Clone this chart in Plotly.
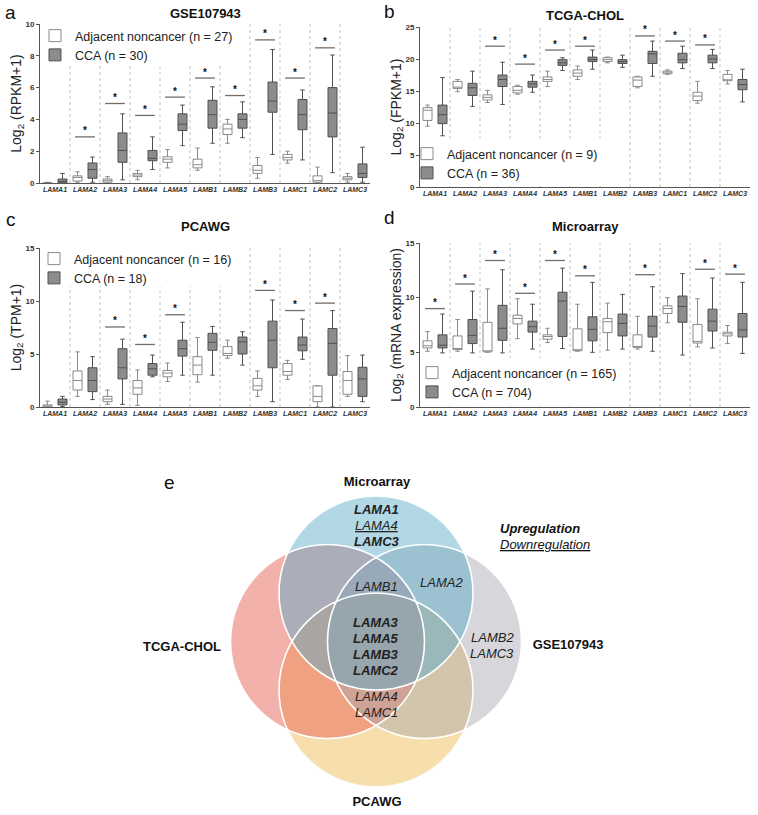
import plotly.graph_objects as go

# ---------------- data ----------------
genes = ["LAMA1", "LAMA2", "LAMA3", "LAMA4", "LAMA5", "LAMB1", "LAMB2", "LAMB3", "LAMC1", "LAMC2", "LAMC3"]

# panel a : GSE107943, Log2(RPKM+1)
gse_adj_lo = [0.0, 0.05, 0.0, 0.2, 0.95, 0.8, 2.5, 0.3, 1.25, 0.0, 0.05]
gse_adj_q1 = [0.0, 0.12, 0.05, 0.4, 1.3, 0.95, 3.05, 0.6, 1.45, 0.05, 0.2]
gse_adj_med = [0.0, 0.35, 0.15, 0.5, 1.5, 1.15, 3.4, 0.8, 1.6, 0.15, 0.3]
gse_adj_q3 = [0.02, 0.45, 0.25, 0.6, 1.65, 1.5, 3.7, 1.1, 1.8, 0.45, 0.4]
gse_adj_hi = [0.05, 0.7, 0.4, 0.8, 2.1, 2.2, 4.0, 1.6, 2.0, 1.0, 0.6]
gse_cca_lo = [0.0, 0.05, 0.2, 0.85, 2.35, 2.5, 2.85, 1.8, 1.45, 0.65, 0.05]
gse_cca_q1 = [0.0, 0.3, 1.3, 1.4, 3.3, 3.45, 3.45, 4.45, 3.35, 2.9, 0.35]
gse_cca_med = [0.1, 0.85, 2.05, 1.55, 3.7, 4.3, 4.0, 5.15, 4.3, 4.4, 0.6]
gse_cca_q3 = [0.25, 1.26, 3.15, 2.05, 4.35, 5.2, 4.35, 6.35, 5.25, 6.0, 1.2]
gse_cca_hi = [0.6, 1.63, 4.35, 2.9, 4.9, 6.05, 5.1, 8.4, 5.85, 8.05, 2.25]
gse_sig = [None, 2.9, 5.0, 4.25, 5.4, 6.6, 5.5, 9.0, 6.6, 8.5, None]
gse_n = (27, 30)

# panel b : TCGA-CHOL, Log2(FPKM+1)
tcga_adj_lo = [9.5, 14.9, 13.2, 14.5, 15.7, 16.8, 19.4, 15.5, 17.6, 13.1, 16.1]
tcga_adj_q1 = [10.4, 15.4, 13.6, 14.7, 16.5, 17.3, 19.6, 15.7, 17.7, 13.5, 16.6]
tcga_adj_med = [12.0, 15.6, 14.0, 15.1, 16.8, 17.8, 19.9, 16.7, 18.0, 14.2, 16.7]
tcga_adj_q3 = [12.4, 16.5, 14.4, 15.7, 17.2, 18.3, 20.2, 17.2, 18.1, 14.8, 17.6]
tcga_adj_hi = [12.8, 16.8, 15.1, 15.9, 18.1, 18.9, 20.3, 17.3, 18.3, 16.5, 18.2]
tcga_cca_lo = [8.0, 12.6, 12.9, 14.8, 18.2, 18.4, 18.7, 17.3, 18.5, 18.5, 13.3]
tcga_cca_q1 = [9.9, 14.3, 15.7, 15.6, 19.0, 19.6, 19.3, 19.3, 19.4, 19.4, 15.2]
tcga_cca_med = [11.3, 15.5, 16.8, 16.1, 19.4, 19.9, 19.6, 20.8, 19.9, 20.0, 16.0]
tcga_cca_q3 = [12.8, 16.2, 17.5, 16.5, 19.9, 20.3, 19.9, 21.2, 20.9, 20.6, 16.8]
tcga_cca_hi = [17.1, 18.1, 19.5, 17.5, 20.2, 21.4, 20.6, 22.8, 22.0, 21.5, 18.4]
tcga_sig = [None, None, 22.0, 19.2, 21.4, 22.0, None, 23.6, 22.8, 22.2, None]
tcga_n = (9, 36)

# panel c : PCAWG, Log2(TPM+1)
pcawg_adj_lo = [0.0, 1.0, 0.25, 0.15, 2.4, 2.35, 4.6, 1.0, 2.6, 0.0, 1.0]
pcawg_adj_q1 = [0.0, 1.6, 0.5, 1.2, 2.85, 3.05, 4.85, 1.6, 3.0, 0.5, 1.2]
pcawg_adj_med = [0.1, 2.5, 0.75, 1.8, 3.2, 3.95, 5.05, 2.0, 3.35, 1.0, 2.5]
pcawg_adj_q3 = [0.2, 3.4, 1.0, 2.5, 3.45, 4.75, 5.7, 2.7, 4.1, 2.0, 3.35]
pcawg_adj_hi = [0.55, 5.2, 1.6, 3.5, 4.15, 6.55, 6.3, 3.4, 4.4, 2.0, 4.85]
pcawg_cca_lo = [0.05, 0.7, 0.25, 2.85, 3.0, 3.0, 3.95, 0.5, 4.5, 0.0, 0.5]
pcawg_cca_q1 = [0.2, 1.45, 2.65, 3.0, 4.8, 5.35, 5.0, 3.7, 5.3, 3.0, 1.0]
pcawg_cca_med = [0.45, 2.5, 3.7, 3.6, 5.5, 6.1, 6.15, 6.3, 5.85, 6.0, 2.65]
pcawg_cca_q3 = [0.75, 3.7, 5.5, 4.1, 6.3, 6.95, 6.6, 8.1, 6.6, 7.4, 3.75]
pcawg_cca_hi = [1.0, 4.75, 6.4, 4.9, 8.0, 7.6, 7.1, 10.1, 8.3, 9.1, 4.9]
pcawg_sig = [None, None, 7.55, 5.9, 8.7, None, None, 11.0, 9.1, 9.8, None]
pcawg_n = (16, 18)

# panel d : Microarray, Log2(mRNA expression)
micro_adj_lo = [5.1, 5.1, 5.0, 6.25, 5.9, 5.1, 5.2, 5.3, 7.7, 5.5, 5.8]
micro_adj_q1 = [5.4, 5.25, 5.05, 7.6, 6.2, 5.15, 6.8, 5.45, 8.55, 5.85, 6.5]
micro_adj_med = [5.6, 5.35, 5.1, 8.1, 6.45, 5.2, 7.8, 5.5, 9.0, 6.0, 6.7]
micro_adj_q3 = [6.05, 6.5, 7.75, 8.4, 6.6, 7.15, 8.1, 6.6, 9.25, 7.55, 6.85]
micro_adj_hi = [6.9, 8.0, 10.8, 9.9, 7.2, 9.4, 9.5, 8.3, 10.0, 9.9, 7.45]
micro_cca_lo = [4.95, 4.95, 4.95, 5.3, 5.35, 5.0, 5.3, 5.1, 4.75, 5.4, 4.9]
micro_cca_q1 = [5.4, 5.8, 6.1, 6.85, 6.45, 6.05, 6.5, 6.4, 7.75, 6.95, 6.4]
micro_cca_med = [5.65, 6.55, 7.2, 7.35, 9.7, 7.1, 7.65, 7.4, 9.2, 7.85, 7.05]
micro_cca_q3 = [6.6, 8.0, 9.3, 7.85, 10.5, 8.25, 8.5, 8.3, 10.15, 8.95, 8.55]
micro_cca_hi = [8.5, 10.6, 12.55, 9.4, 12.7, 11.4, 10.3, 11.0, 12.2, 11.8, 11.4]
micro_sig = [9.0, 11.25, 13.4, 10.4, 13.4, 12.0, None, 12.1, None, 12.6, 12.15]
micro_n = (165, 704)

# panel e : Venn diagram
venn_sets = ["Microarray", "GSE107943", "PCAWG", "TCGA-CHOL"]
venn_micro_only = ["LAMA1", "LAMA4", "LAMC3"]
venn_micro_only_dir = ["up", "down", "up"]
venn_micro_gse_tcga = ["LAMB1"]
venn_micro_gse = ["LAMA2"]
venn_all_four = ["LAMA3", "LAMA5", "LAMB3", "LAMC2"]
venn_gse_only = ["LAMB2", "LAMC3"]
venn_gse_pcawg_tcga = ["LAMA4", "LAMC1"]

# ---------------- figure ----------------
FONT = "Liberation Sans, Arial, sans-serif"
W, H = 758, 815
fig = go.Figure()

def px_x(p):
    return p / W

def px_y(p):
    return 1 - p / H

panels = [
    dict(key="", title="GSE107943", letter="a", ytitle="Log<sub>2</sub> (RPKM+1)",
         adj=(gse_adj_lo, gse_adj_q1, gse_adj_med, gse_adj_q3, gse_adj_hi),
         cca=(gse_cca_lo, gse_cca_q1, gse_cca_med, gse_cca_q3, gse_cca_hi),
         sig=gse_sig, n=gse_n, yr=[0, 10], dt=2,
         xd=[40, 370], yd=[24, 183], leg=(35, 21), cover=(42, 23, 240, 65),
         tpos=(205, 13), lpos=(3, 12)),
    dict(key="2", title="TCGA-CHOL", letter="b", ytitle="Log<sub>2</sub> (FPKM+1)",
         adj=(tcga_adj_lo, tcga_adj_q1, tcga_adj_med, tcga_adj_q3, tcga_adj_hi),
         cca=(tcga_cca_lo, tcga_cca_q1, tcga_cca_med, tcga_cca_q3, tcga_cca_hi),
         sig=tcga_sig, n=tcga_n, yr=[0, 25], dt=5,
         xd=[420, 750], yd=[27, 187], leg=(407, 139), cover=(422, 140, 605, 186),
         tpos=(585, 15), lpos=(382, 11)),
    dict(key="3", title="PCAWG", letter="c", ytitle="Log<sub>2</sub> (TPM+1)",
         adj=(pcawg_adj_lo, pcawg_adj_q1, pcawg_adj_med, pcawg_adj_q3, pcawg_adj_hi),
         cca=(pcawg_cca_lo, pcawg_cca_q1, pcawg_cca_med, pcawg_cca_q3, pcawg_cca_hi),
         sig=pcawg_sig, n=pcawg_n, yr=[0, 15], dt=5,
         xd=[40, 370], yd=[248, 407], leg=(34, 244), cover=(42, 246, 240, 286),
         tpos=(205, 227), lpos=(4, 219)),
    dict(key="4", title="Microarray", letter="d", ytitle="Log<sub>2</sub> (mRNA expression)",
         adj=(micro_adj_lo, micro_adj_q1, micro_adj_med, micro_adj_q3, micro_adj_hi),
         cca=(micro_cca_lo, micro_cca_q1, micro_cca_med, micro_cca_q3, micro_cca_hi),
         sig=micro_sig, n=micro_n, yr=[0, 15], dt=5,
         xd=[420, 750], yd=[243, 407], leg=(412, 358), cover=(422, 358, 628, 406),
         tpos=(585, 227), lpos=(382, 217)),
]

xpos = list(range(len(genes)))
shapes = []
annotations = []
layout_axes = {}

for p in panels:
    k = p["key"]
    xa, ya = "x" + k, "y" + k
    legname = "legend" + k
    for grp, og, label, fill, lc in [
        (p["adj"], "adj", "Adjacent noncancer (n = %d)" % p["n"][0], "white", "#8a8a8a"),
        (p["cca"], "cca", "CCA (n = %d)" % p["n"][1], "#8c8c8c", "#505050"),
    ]:
        lo, q1, med, q3, hi = grp
        fig.add_trace(go.Box(
            x=xpos, q1=q1, median=med, q3=q3, lowerfence=lo, upperfence=hi,
            name=label, fillcolor=fill, line=dict(color=lc, width=1),
            whiskerwidth=0.5, boxpoints=False, hoverinfo="skip",
            alignmentgroup="panel" + (k or "1"), offsetgroup=og,
            xaxis=xa, yaxis=ya, legend=legname,
        ))
    # significance bars and asterisks
    bx, by, sx, sy = [], [], [], []
    for i, h in enumerate(p["sig"]):
        if h is None:
            continue
        bx += [i - 0.33, i + 0.33, None]
        by += [h, h, None]
        sx.append(i)
        sy.append(h)
    fig.add_trace(go.Scatter(x=bx, y=by, mode="lines", line=dict(color="#6e6e6e", width=1.3),
                             showlegend=False, hoverinfo="skip", xaxis=xa, yaxis=ya))
    fig.add_trace(go.Scatter(x=sx, y=sy, mode="text", text=["*"] * len(sx),
                             textposition="top center", cliponaxis=False,
                             textfont=dict(size=10, color="#111111", family=FONT, weight="bold"),
                             showlegend=False, hoverinfo="skip", xaxis=xa, yaxis=ya))
    # dotted separators
    for i in range(len(genes) - 1):
        shapes.append(dict(type="line", xref=xa, yref=ya + " domain", x0=i + 0.5, x1=i + 0.5,
                           y0=0, y1=1, line=dict(color="#c4c4c4", width=1, dash="dot"),
                           layer="below"))
    # white patch behind the legend (hides separators there)
    c = p["cover"]
    shapes.append(dict(type="rect", xref="paper", yref="paper", x0=px_x(c[0]), x1=px_x(c[2]),
                       y0=px_y(c[3]), y1=px_y(c[1]), fillcolor="white", line=dict(width=0),
                       layer="below"))
    layout_axes["xaxis" + k] = dict(
        domain=[px_x(p["xd"][0]), px_x(p["xd"][1])], anchor=ya, range=[-0.5, len(genes) - 0.5],
        tickvals=xpos, ticktext=genes, ticks="", showgrid=False, zeroline=False,
        showline=True, linecolor="#555", linewidth=1, automargin=False,
        tickfont=dict(size=7, family=FONT, color="#333", weight="bold", style="italic"),
    )
    layout_axes["yaxis" + k] = dict(
        domain=[px_y(p["yd"][1]), px_y(p["yd"][0])], anchor=xa, range=p["yr"],
        tickvals=list(range(p["yr"][0], p["yr"][1] + 1, p["dt"])),
        ticks="outside", ticklen=3, tickcolor="#555", showgrid=False, zeroline=False,
        showline=True, linecolor="#555", linewidth=1, automargin=False,
        tickfont=dict(size=8, family=FONT, color="#333", weight="bold"),
        title=dict(text=p["ytitle"], font=dict(size=14, family=FONT, color="#222"), standoff=0),
    )
    layout_axes[legname] = dict(
        x=px_x(p["leg"][0]), y=px_y(p["leg"][1]), xanchor="left", yanchor="top",
        bgcolor="rgba(0,0,0,0)", borderwidth=0, font=dict(size=12.5, family=FONT, color="#222"),
        tracegroupgap=0, itemclick=False,
    )
    annotations.append(dict(text="<b>%s</b>" % p["title"], xref="paper", yref="paper",
                            x=px_x(p["tpos"][0]), y=px_y(p["tpos"][1]), xanchor="center",
                            yanchor="middle", showarrow=False,
                            font=dict(size=13, family=FONT, color="#111")))
    annotations.append(dict(text=p["letter"], xref="paper", yref="paper",
                            x=px_x(p["lpos"][0]), y=px_y(p["lpos"][1]), xanchor="left",
                            yanchor="middle", showarrow=False,
                            font=dict(size=19, family=FONT, color="#111")))

# ---------------- Venn (panel e) ----------------
R = 97.0  # pixels per unit (circle radius = 1)
cx_px, cy_px = 376, 641.5
layout_axes["xaxis5"] = dict(domain=[0, 1], range=[-cx_px / R, (W - cx_px) / R], visible=False,
                             anchor="y5", fixedrange=True, automargin=False)
layout_axes["yaxis5"] = dict(domain=[0, px_y(440)], range=[-(H - cy_px) / R, (cy_px - 440) / R],
                             visible=False, anchor="x5", fixedrange=True, automargin=False)

off = 0.5
venn_dirs = {"Microarray": (0, 1), "GSE107943": (1, 0), "PCAWG": (0, -1), "TCGA-CHOL": (-1, 0)}
venn_fill = {"TCGA-CHOL": "rgba(232,100,88,0.5)", "GSE107943": "rgba(165,165,172,0.44)",
             "PCAWG": "rgba(238,192,90,0.5)", "Microarray": "rgba(88,170,200,0.46)"}
draw_order = ["PCAWG", "TCGA-CHOL", "GSE107943", "Microarray"]
for s in draw_order:
    dx, dy = venn_dirs[s]
    cx, cy = dx * off, dy * off
    shapes.append(dict(type="circle", xref="x5", yref="y5", x0=cx - 1, x1=cx + 1, y0=cy - 1, y1=cy + 1,
                       fillcolor=venn_fill[s], line=dict(width=0), layer="below"))
for s in draw_order:
    dx, dy = venn_dirs[s]
    cx, cy = dx * off, dy * off
    shapes.append(dict(type="circle", xref="x5", yref="y5", x0=cx - 1, x1=cx + 1, y0=cy - 1, y1=cy + 1,
                       fillcolor="rgba(0,0,0,0)", line=dict(color="white", width=1.6), layer="below"))

# set names
name_pos = {"Microarray": (0.01, 1.634), "GSE107943": (1.98, -0.046),
            "PCAWG": (0.01, -1.665), "TCGA-CHOL": (-2.0, -0.067)}
fig.add_trace(go.Scatter(
    x=[name_pos[s][0] for s in venn_sets], y=[name_pos[s][1] for s in venn_sets],
    mode="text", text=["<b>%s</b>" % s for s in venn_sets], cliponaxis=False,
    textfont=dict(size=13, family=FONT, color="#111"), showlegend=False, hoverinfo="skip",
    xaxis="x5", yaxis="y5"))

def venn_lines(items, x, y0, styles, step=0.165):
    for j, (g, st) in enumerate(zip(items, styles)):
        if st == "up":
            t = "<b><i>%s</i></b>" % g
        elif st == "down":
            t = "<i><u>%s</u></i>" % g
        else:
            t = "<i>%s</i>" % g
        annotations.append(dict(text=t, xref="x5", yref="y5", x=x, y=y0 - j * step, showarrow=False,
                                font=dict(size=13, family=FONT, color="#222")))

venn_lines(venn_micro_only, 0.01, 1.366, venn_micro_only_dir)
venn_lines(venn_micro_gse_tcga, 0.0, 0.562, ["plain"])
venn_lines(venn_micro_gse, 0.68, 0.613, ["plain"])
venn_lines(venn_all_four, 0.0, 0.191, ["up"] * len(venn_all_four))
venn_lines(venn_gse_only, 1.196, 0.046, ["plain"] * len(venn_gse_only))
venn_lines(venn_gse_pcawg_tcga, 0.01, -0.562, ["plain"] * len(venn_gse_pcawg_tcga))

annotations.append(dict(text="<b><i>Upregulation</i></b>", xref="x5", yref="y5", x=1.258, y=1.16,
                        xanchor="left", showarrow=False, font=dict(size=13, family=FONT, color="#111")))
annotations.append(dict(text="<i><u>Downregulation</u></i>", xref="x5", yref="y5", x=1.258, y=0.995,
                        xanchor="left", showarrow=False, font=dict(size=13, family=FONT, color="#111")))
annotations.append(dict(text="e", xref="paper", yref="paper", x=px_x(162), y=px_y(482),
                        xanchor="left", yanchor="middle", showarrow=False,
                        font=dict(size=19, family=FONT, color="#111")))

fig.update_layout(
    width=W, height=H, margin=dict(l=0, r=0, t=0, b=0, autoexpand=False),
    paper_bgcolor="white", plot_bgcolor="white",
    boxmode="group", boxgap=0.0, boxgroupgap=0.4,
    font=dict(family=FONT),
    shapes=shapes, annotations=annotations,
    **layout_axes,
)

fig.write_html("out.html", config={"displayModeBar": False},
               post_script="document.body.style.margin='0px';")
